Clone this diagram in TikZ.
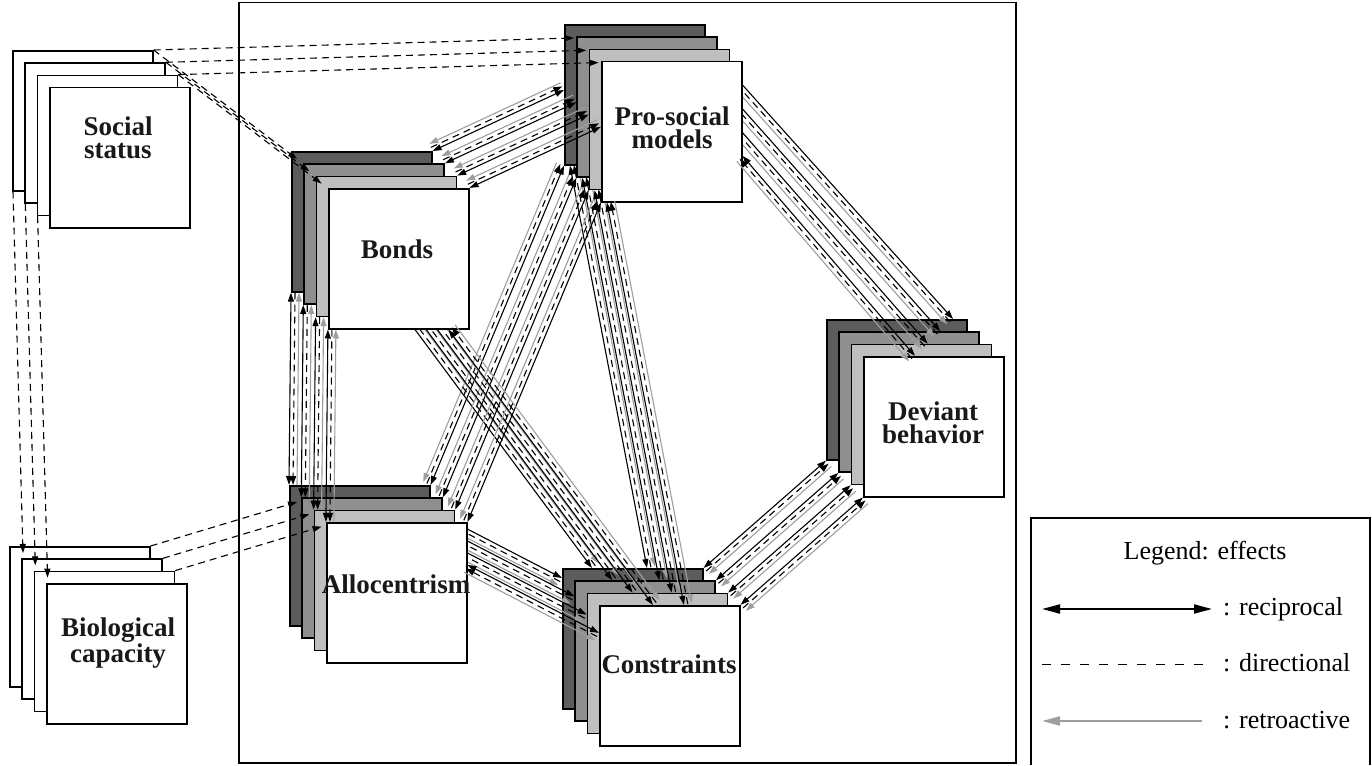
\documentclass[tikz,border=0pt]{standalone}
\usepackage{fontspec}
\setmainfont{Liberation Serif}
\usetikzlibrary{calc,arrows.meta}

\definecolor{layA}{gray}{0.36}
\definecolor{layB}{gray}{0.56}
\definecolor{layC}{gray}{0.75}
\definecolor{retrogray}{gray}{0.62}

\tikzset{
  layerbox/.style={draw=black, line width=1.6pt, minimum width=140pt, minimum height=140pt,
                   anchor=north west, inner sep=0pt},
  recip/.style={black, line width=1.1pt, {Triangle[length=9pt,width=6pt]}-{Triangle[length=9pt,width=6pt]}},
  direc/.style={black, line width=1.1pt, dash pattern=on 7pt off 5pt, -{Triangle[length=9pt,width=6pt]}},
  retro/.style={retrogray, line width=1.1pt, -{Triangle[length=9pt,width=6pt]}},
  boxtext/.style={font=\fontsize{27}{23}\selectfont\bfseries, align=center, inner sep=0pt, text=black!90},
  legtext/.style={font=\fontsize{26}{30}\selectfont, inner sep=0pt},
}

% one bundle of effects between two layers:
% reciprocal (black), directional (dashed, towards #2), retroactive (grey, towards #1)
\newcommand\bundle[4]{%
  \coordinate (ea) at (#1);
  \coordinate (eb) at (#2);
  \draw[recip] (ea) -- (eb);
  \draw[direc] ($(ea)+(#3,#4)$) -- ($(eb)+(#3,#4)$);
  \draw[retro] ($(eb)+2*(#3,#4)$) -- ($(ea)+2*(#3,#4)$);
}

\begin{document}
\begin{tikzpicture}[x=1pt,y=-1pt]
\useasboundingbox (0,0) rectangle (1372,765);

% frame around the central model
\node[draw, line width=1.5pt, minimum width=777pt, minimum height=760pt,
      anchor=north west, inner sep=0pt] (frame) at (238,2) {};

\def\dstep{12.3}
\foreach \k/\fc in {0/layA,1/layB,2/layC,3/white}{
  % layer \k of every stack
  \foreach \nm/\X/\Y in {bonds/291/151, pro/564/24, dev/826/319, allo/289/485, cons/562/568}
    \node[layerbox, fill=\fc] (\nm\k) at (\X+\k*\dstep, \Y+\k*\dstep) {};
  \foreach \nm/\X/\Y in {soc/12/50, bio/9/546}
    \node[layerbox, fill=white] (\nm\k) at (\X+\k*\dstep, \Y+\k*\dstep) {};

  % directional effects of the two outer factors
  \ifnum\k<3
    \draw[direc] (soc\k.north east) -- ($(pro\k.north west)+(10,14)$);
    \draw[direc] (soc\k.north east) -- ($(bonds\k.north west)+(6,8)$);
    \draw[direc] ($(soc\k.south west)+(1,0)$) -- ($(bio\k.north west)+(14,7)$);
    \draw[direc] (bio\k.north east) -- ($(allo\k.north west)+(8,17)$);
  \fi

  % effects among the model factors, layer \k
  \bundle{bonds\k.north east}{$(pro\k.north west)+(0,66)$}{-1.7}{-3.6}
  \bundle{bonds\k.south west}{allo\k.north west}{4}{0}
  \bundle{allo\k.north east}{pro\k.south west}{-3.7}{-1.5}
  \bundle{$(cons\k.north west)+(85,0)$}{$(pro\k.south west)+(6,0)$}{3.9}{-0.8}
  \bundle{$(cons\k.north west)+(30+8*\k,0)$}{$(bonds\k.south east)+(-45+8*\k,0)$}{3.3}{-2.3}
  \bundle{$(cons\k.north west)+(0,10+6*\k)$}{$(allo\k.north east)+(0,25+6*\k)$}{-1.8}{3.6}
  \bundle{cons\k.north east}{dev\k.south west}{2.6}{3}
  \bundle{$(dev\k.north west)+(127-25*\k,0)$}{$(pro\k.north east)+(0,20+25*\k)$}{-2.9}{2.7}
}

% factor names on the front layers
\node[boxtext] (tsoc)   at (118,138) {Social\\status};
\node[boxtext] (tbonds) at (397,249) {Bonds};
\node[boxtext] (tpro)   at (672,128) {Pro-social\\models};
\node[boxtext] (tdev)   at (933,423) {Deviant\\behavior};
\node[boxtext] (tallo)  at (396,584) {Allocentrism};
\node[boxtext] (tcons)  at (669,664) {Constraints};
\node[boxtext] (tbio)   at (118,643) {Biological\\capacity};

% legend
\draw[line width=2pt] (1031,765) |- (1370,518) -- (1370,765);
\node[legtext, anchor=base] (lgtitle) at (1205,559) {Legend: effects};
\node[legtext, anchor=base west] (lgrec) at (1223,615) {: reciprocal};
\node[legtext, anchor=base west] (lgdir) at (1223,671) {: directional};
\node[legtext, anchor=base west] (lgret) at (1223,728) {: retroactive};
\coordinate (lr1) at (1042,609); \coordinate (lr2) at (1212,609);
\coordinate (ld1) at (1042,664); \coordinate (ld2) at (1212,664);
\coordinate (lt1) at (1042,721); \coordinate (lt2) at (1202,721);
\draw[line width=2pt, {Triangle[length=18pt,width=9pt]}-{Triangle[length=18pt,width=9pt]}] (lr1) -- (lr2);
\draw[line width=1pt, dash pattern=on 9pt off 10pt] (ld1) -- (ld2);
\draw[retrogray, line width=2.2pt, {Triangle[length=18pt,width=9pt]}-] (lt1) -- (lt2);
\end{tikzpicture}
\end{document}
